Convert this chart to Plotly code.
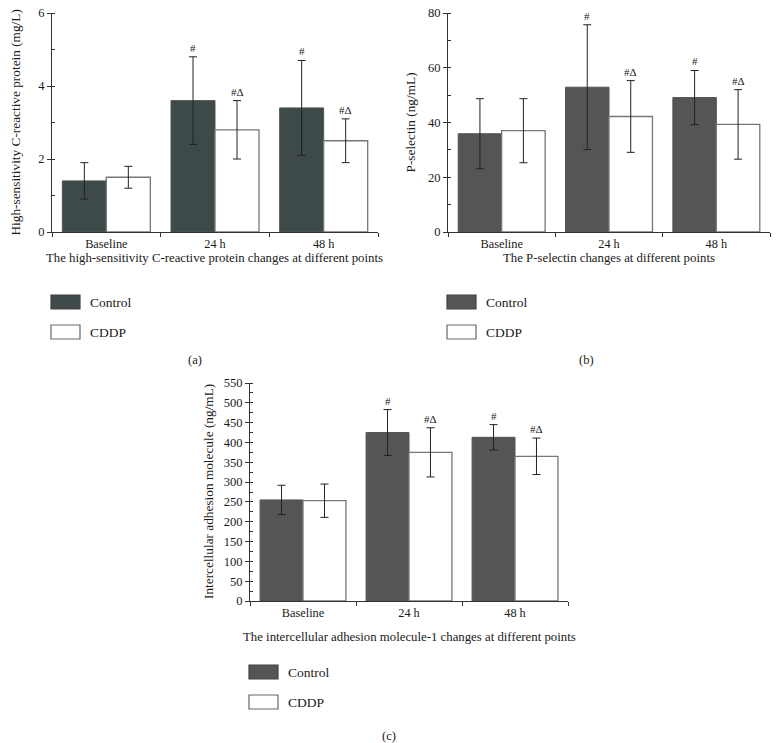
import plotly.graph_objects as go

# Time points shared by the three panels
CATEGORIES = ["Baseline", "24 h", "48 h"]

# (a) high-sensitivity C-reactive protein (mg/L)
CRP_CONTROL = [1.4, 3.6, 3.4]
CRP_CONTROL_SD = [0.5, 1.2, 1.3]
CRP_CDDP = [1.5, 2.8, 2.5]
CRP_CDDP_SD = [0.3, 0.8, 0.6]

# (b) P-selectin (ng/mL)
PSEL_CONTROL = [35.9, 52.9, 49.1]
PSEL_CONTROL_SD = [12.8, 22.8, 9.9]
PSEL_CDDP = [37.0, 42.2, 39.3]
PSEL_CDDP_SD = [11.7, 13.1, 12.7]

# (c) intercellular adhesion molecule-1 (ng/mL)
ICAM_CONTROL = [255, 425, 413]
ICAM_CONTROL_SD = [37, 58, 32]
ICAM_CDDP = [253, 375, 365]
ICAM_CDDP_SD = [42, 62, 46]

# significance marks above the error bars
CONTROL_MARKS = ["", "#", "#"]
CDDP_MARKS = ["", "#\u0394", "#\u0394"]

W, H = 781, 743
PAGE_OFFSET = 8  # default body margin of the html page
FONT = "Liberation Serif"
TEXT = "#1a1a1a"
AXIS = "#333333"
BARGAP = 0.19


def px(x):
    return (x - PAGE_OFFSET) / W


def py(y):
    return 1 - (y - PAGE_OFFSET) / H


PANELS = [
    dict(key="", tick_key="4", control=CRP_CONTROL, control_sd=CRP_CONTROL_SD,
         cddp=CRP_CDDP, cddp_sd=CRP_CDDP_SD, color="#3e4a4a",
         x0=52, x1=378, y0=13, y1=232, yrange=[0, 6], dtick=2, minor=1,
         ytitle="High-sensitivity C-reactive protein (mg/L)", ytx=15,
         xtitle="The high-sensitivity C-reactive protein changes at different points",
         xty=258, leg_y=(295, 325), tag="(a)", tag_xy=(195, 360)),
    dict(key="2", tick_key="5", control=PSEL_CONTROL, control_sd=PSEL_CONTROL_SD,
         cddp=PSEL_CDDP, cddp_sd=PSEL_CDDP_SD, color="#555555",
         x0=448, x1=770, y0=13, y1=232, yrange=[0, 80], dtick=20, minor=10,
         ytitle="P-selectin (ng/mL)", ytx=410,
         xtitle="The P-selectin changes at different points",
         xty=258, leg_y=(295, 325), tag="(b)", tag_xy=(586, 360)),
    dict(key="3", tick_key="6", control=ICAM_CONTROL, control_sd=ICAM_CONTROL_SD,
         cddp=ICAM_CDDP, cddp_sd=ICAM_CDDP_SD, color="#555555",
         x0=250, x1=568, y0=383, y1=601, yrange=[0, 550], dtick=50, minor=25,
         ytitle="Intercellular adhesion molecule (ng/mL)", ytx=208,
         xtitle="The intercellular adhesion molecule-1 changes at different points",
         xty=637, leg_y=(665, 695), tag="(c)", tag_xy=(389, 736)),
]

fig = go.Figure()
annotations = []
shapes = []
half = (1 - BARGAP) / 4  # offset of each bar centre from the category centre

for p in PANELS:
    xa, ya = "x" + p["key"], "y" + p["key"]
    err_style = dict(type="data", color="#222222", thickness=1, width=4)
    fig.add_trace(go.Bar(
        x=CATEGORIES, y=p["control"], name="Control",
        error_y=dict(array=p["control_sd"], **err_style),
        marker=dict(color=p["color"], line=dict(color="#555555", width=1)),
        xaxis=xa, yaxis=ya, offsetgroup="ctl" + p["key"], showlegend=False,
    ))
    fig.add_trace(go.Bar(
        x=CATEGORIES, y=p["cddp"], name="CDDP",
        error_y=dict(array=p["cddp_sd"], **err_style),
        marker=dict(color="white", line=dict(color="#777777", width=1.3)),
        xaxis=xa, yaxis=ya, offsetgroup="cddp" + p["key"], showlegend=False,
    ))

    axis_x = dict(
        domain=[px(p["x0"]), px(p["x1"])], anchor=ya, type="category",
        automargin=False,
        showline=True, linecolor=AXIS, linewidth=1, showgrid=False,
        ticks="outside", tickson="boundaries", ticklen=4, tickcolor=AXIS,
        tickfont=dict(family=FONT, size=12.3, color=TEXT),
    )
    # extra axis carrying only the small ticks under each category centre
    axis_centre = dict(
        domain=[px(p["x0"]), px(p["x1"])], anchor=ya, overlaying=xa,
        automargin=False, range=[-0.5, len(CATEGORIES) - 0.5],
        tickvals=list(range(len(CATEGORIES))), showticklabels=False,
        ticks="outside", ticklen=4, tickcolor=AXIS,
        showline=False, showgrid=False, zeroline=False,
    )
    axis_y = dict(
        domain=[py(p["y1"]), py(p["y0"])], anchor=xa, range=p["yrange"],
        automargin=False, ticklabeloverflow="allow",
        showline=True, linecolor=AXIS, linewidth=1, showgrid=False,
        zeroline=False, ticks="outside", ticklen=4, tickcolor=AXIS,
        dtick=p["dtick"], tick0=0,
        minor=dict(ticks="inside", ticklen=3, dtick=p["minor"], tick0=0,
                   tickcolor=AXIS, showgrid=False),
        tickfont=dict(family=FONT, size=12.5, color=TEXT),
    )
    fig.update_layout({
        "xaxis" + p["key"]: axis_x,
        "xaxis" + p["tick_key"]: axis_centre,
        "yaxis" + p["key"]: axis_y,
    })

    # significance marks
    for i, cat in enumerate(CATEGORIES):
        for mark, vals, sds, off in (
            (CONTROL_MARKS[i], p["control"], p["control_sd"], -half),
            (CDDP_MARKS[i], p["cddp"], p["cddp_sd"], half),
        ):
            if mark:
                annotations.append(dict(
                    x=i + off, y=vals[i] + sds[i], xref=xa, yref=ya,
                    text=mark, showarrow=False, xanchor="center",
                    yanchor="bottom", yshift=1,
                    font=dict(family=FONT, size=11, color=TEXT),
                ))

    # axis titles
    annotations.append(dict(
        x=px(p["ytx"]), y=py((p["y0"] + p["y1"]) / 2), xref="paper", yref="paper",
        text=p["ytitle"], textangle=-90, showarrow=False,
        xanchor="center", yanchor="middle",
        font=dict(family=FONT, size=13.3, color=TEXT),
    ))
    annotations.append(dict(
        x=px((p["x0"] + p["x1"]) / 2), y=py(p["xty"]), xref="paper", yref="paper",
        text=p["xtitle"], showarrow=False, xanchor="center", yanchor="middle",
        font=dict(family=FONT, size=12.8, color=TEXT),
    ))

    # legend boxes
    for (label, fill, line), ly in zip(
        (("Control", p["color"], "#444444"), ("CDDP", "white", "#666666")),
        p["leg_y"],
    ):
        shapes.append(dict(
            type="rect", xref="paper", yref="paper",
            x0=px(p["x0"] - 1), x1=px(p["x0"] + 28), y0=py(ly + 14), y1=py(ly),
            fillcolor=fill, line=dict(color=line, width=1.2),
        ))
        annotations.append(dict(
            x=px(p["x0"] + 36), y=py(ly + 7), xref="paper", yref="paper",
            text=label, showarrow=False, xanchor="left", yanchor="middle",
            font=dict(family=FONT, size=13.5, color=TEXT),
        ))

    annotations.append(dict(
        x=px(p["tag_xy"][0]), y=py(p["tag_xy"][1]), xref="paper", yref="paper",
        text=p["tag"], showarrow=False, xanchor="center", yanchor="middle",
        font=dict(family=FONT, size=12.5, color=TEXT),
    ))

fig.update_layout(
    width=W, height=H,
    margin=dict(l=0, r=0, t=0, b=0, autoexpand=False),
    paper_bgcolor="white", plot_bgcolor="white",
    barmode="group", bargap=BARGAP, bargroupgap=0,
    font=dict(family=FONT, color=TEXT),
    annotations=annotations, shapes=shapes,
    showlegend=False,
)

fig.write_html("out.html")
